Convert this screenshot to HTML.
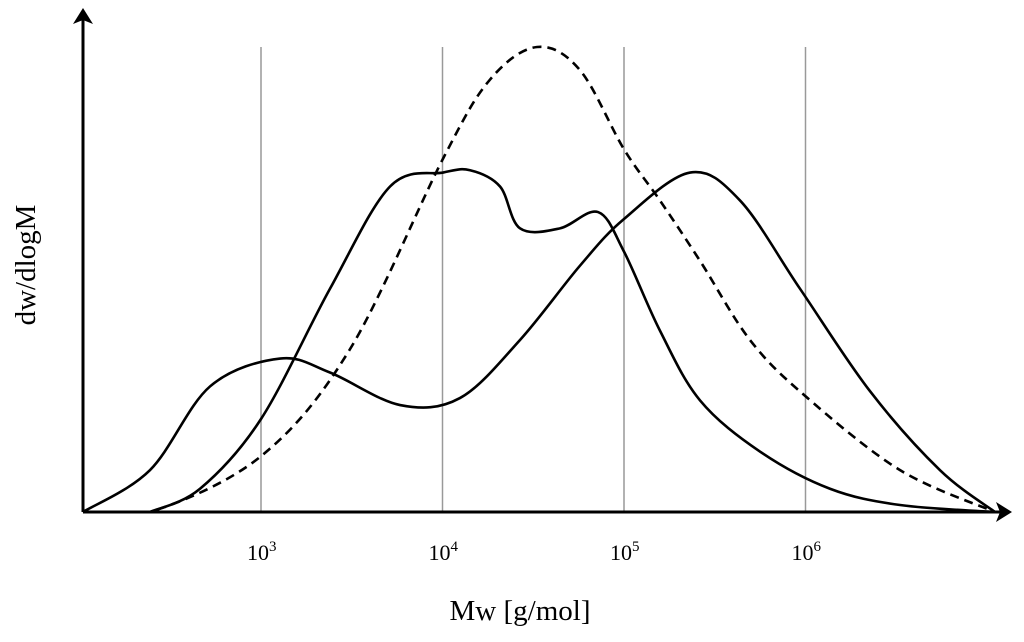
<!DOCTYPE html>
<html><head><meta charset="utf-8"><style>
html,body{margin:0;padding:0;background:#fff;}
svg{display:block;font-family:"Liberation Serif",serif;}
</style></head><body>
<svg id="chart" width="1024" height="642" viewBox="0 0 1024 642">
<g id="grid"></g>
<g id="curves"></g>
<g>
<line x1="83" y1="512" x2="1002" y2="512" stroke="#000" stroke-width="3"/>
<polygon points="1012,512 996,502 1000,512 996,522" fill="#000"/>
<line x1="83" y1="512" x2="83" y2="18" stroke="#000" stroke-width="3"/>
<polygon points="83,8 73,24 83,20 93,24" fill="#000"/>
</g>
<g id="ticks"></g>
<text x="520" y="620" font-size="29" text-anchor="middle">Mw [g/mol]</text>
<text transform="translate(35,265) rotate(-90)" font-size="29" text-anchor="middle">dw/dlogM</text>
</svg>
<script>
const tickExps = [3, 4, 5, 6];
const dashedLog = [2.019,2.388,3,3.49,4.003,4.262,4.521,4.758,5,5.198,5.419,5.694,5.997,6.521,7.044];
const dashedVal = [0,0,12,35,76,93,100,95,78,67,54,37,25,9,0];
const curveALog = [2.019,2.388,2.719,3.105,3.38,3.766,4.096,4.427,4.758,5,5.364,5.639,5.97,6.355,6.741,7.044];
const curveAVal = [0,9,27,33,30,23,24.5,37,53,63,73,67,48,26,9,0];
const curveBLog = [2.388,2.664,3,3.38,3.711,4.003,4.152,4.317,4.427,4.647,4.857,5,5.198,5.419,5.749,6.135,6.521,7.044];
const curveBVal = [0,5,20,48,70,73,73.5,70,61,61,64.5,56,39,24,13,5,1.5,0];

const NS="http://www.w3.org/2000/svg";
function xs(l){return 261+(l-3)*181.5;}
function ys(v){return 512-v*4.65;}
function path(L,V){
  const p=L.map((l,i)=>[xs(l),ys(V[i])]);
  let d="M"+p[0][0]+","+p[0][1];
  for(let i=0;i<p.length-1;i++){
    const p0=p[Math.max(0,i-1)],p1=p[i],p2=p[i+1],p3=p[Math.min(p.length-1,i+2)];
    const c1=[p1[0]+(p2[0]-p0[0])/6,p1[1]+(p2[1]-p0[1])/6];
    const c2=[p2[0]-(p3[0]-p1[0])/6,p2[1]-(p3[1]-p1[1])/6];
    d+=` C${c1[0]},${Math.min(512,c1[1])} ${c2[0]},${Math.min(512,c2[1])} ${p2[0]},${p2[1]}`;
  }
  return d;
}
const grid=document.getElementById('grid'),ticks=document.getElementById('ticks'),curves=document.getElementById('curves');
tickExps.forEach(e=>{
  const ln=document.createElementNS(NS,'line');
  ln.setAttribute('x1',xs(e));ln.setAttribute('x2',xs(e));ln.setAttribute('y1',47);ln.setAttribute('y2',512);
  ln.setAttribute('stroke','#999');ln.setAttribute('stroke-width','1.5');
  
  
  grid.appendChild(ln);
  const t=document.createElementNS(NS,'text');
  t.setAttribute('x',xs(e)-14);t.setAttribute('y',560);t.setAttribute('font-size','22');
  t.innerHTML='10<tspan dy="-9" font-size="15">'+e+'</tspan>';
  
  
  ticks.appendChild(t);
});
function add(L,V,name,dash){
  const p=document.createElementNS(NS,'path');
  p.setAttribute('d',path(L,V));p.setAttribute('fill','none');p.setAttribute('stroke','#000');p.setAttribute('stroke-width','2.6');
  if(dash)p.setAttribute('stroke-dasharray','9,6');
  
  
  curves.appendChild(p);
}
add(dashedLog,dashedVal,'dashed-curve',true);
add(curveALog,curveAVal,'bimodal-curve-a',false);
add(curveBLog,curveBVal,'bimodal-curve-b',false);
</script>
</body></html>
